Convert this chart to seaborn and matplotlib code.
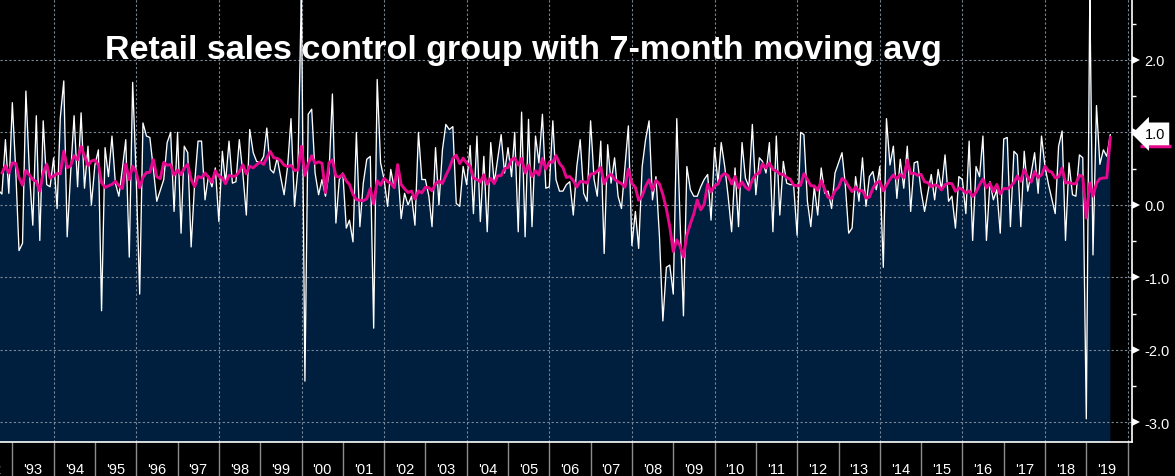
import numpy as np
import pandas as pd
import matplotlib
matplotlib.use("Agg")
import matplotlib.pyplot as plt
import matplotlib.dates as mdates
import matplotlib.transforms as mtransforms
import seaborn as sns

# ---------------- data (monthly % change, month-end dates from Mar 1992) ----------------
start_month = "1992-03-31"

mom_1992_1998 = [0.20, 0.86, 0.43, 0.50, 0.74, 0.20,
                 0.15, 0.90, 0.16, 1.41, 0.45, -0.63, -0.53, 1.57, 0.45, -0.28, 1.23, -0.49,
                 1.16, 0.28, 0.25, 0.65, -0.05, 1.20, 1.71, -0.44, 0.45, 1.23, 0.25, 1.27,
                 0.23, 0.81, 0.00, 0.55, 0.76, -1.46, 0.79, 0.39, 0.95, 0.30, 0.12, 0.50,
                 0.90, -0.72, 1.69, 0.40, -1.23, 1.13, 0.95, 0.93, 0.50, 0.05, 0.20, 0.35,
                 0.86, 1.00, -0.09, 1.00, -0.39, 0.81, 0.72, -0.58, 0.30, 0.88, 0.88, 0.07,
                 0.40, 0.25, 0.51, -0.23, 0.74]

mom_1998_2003 = [0.30, 0.88, 0.30, 0.32, 0.90, 0.44, -0.14, 1.04, 0.72, 0.60, 0.58, 0.67,
                 1.06, 0.49, 0.44, 0.65, 0.39, 0.14, 0.53, 1.19, -0.02, 0.49,
                 2.95, -2.43,
                 1.25, 1.32, 0.44, 0.14, 0.35, 0.12, 0.44, 1.53, -0.25, 0.35, 0.44, -0.32,
                 -0.21, -0.51, 1.00, -0.30, 0.30, 0.63, 0.67,
                 -1.70, 1.73,
                 0.58, 0.35, -0.02, 0.49, 0.23, 0.53, -0.19, 0.16, 0.00, 0.12, -0.28, 1.00,
                 0.35, 0.35, 0.12, -0.30, 0.79, 0.00, 0.76, 1.11]

mom_2003_2008 = [1.04, 1.08, 0.02, -0.02, 0.53, 0.28, 0.82, -0.12, 0.95, -0.23, 0.67, -0.37,
                 0.86, 0.30, 0.63, 0.97, 0.44, 0.79, 0.39, 1.00, -0.37, 1.28, -0.44, 1.18,
                 -0.30, 0.95, 0.58, 1.25, 0.23, 0.25, 1.16, 0.35, 0.19, 0.19, 0.28, 0.32,
                 -0.14, 0.53, 0.90, 0.16, 0.05, 1.16, 0.35, 0.12, 0.88, -0.67, 0.83, 0.30,
                 0.65, 0.12, -0.05, 0.53, 1.09, -0.56, -0.09, -0.60, 0.53, 0.90, 1.16, 0.07,
                 0.39, -0.44, -1.60, -0.86, -0.83]

mom_2008_2014 = [-1.23, 1.19, -0.17, -1.53, 0.53, 0.21, 0.12, 0.12, 0.25, 0.35, 0.42, -0.21,
                 0.79, 0.30, 0.86, 0.53, 0.12, -0.37, 0.51, -0.30, 0.86, 0.37, 0.25, 1.11,
                 0.14, 0.65, 0.60, 0.44, 0.86, -0.37, 0.95, -0.14, 0.60, 0.30, 0.28, 0.28,
                 -0.42, 1.00, 0.97, 0.05, -0.30, 0.25, -0.14, 0.51, 0.16, 0.19, -0.05, 0.44,
                 0.58, 0.72, 0.30, -0.39, -0.32, 0.39, 0.05, 0.65, -0.02, 0.39, 0.46, 0.21,
                 0.53, -0.86, 1.19, 0.55]

mom_2014_2019 = [0.81, 0.09, 0.63, 0.23, 0.81, -0.09, 0.58, 0.60, 0.19, -0.09, 0.16, 0.42,
                 0.07, 0.49, 0.21, 0.69, 0.05, 0.12, -0.32, 0.39, 0.35, -0.12, 0.88, -0.49,
                 0.53, 0.39, 0.95, -0.49, 0.32, 0.07, 0.21, -0.39, 0.91, 0.93, -0.30, 0.74,
                 0.69, -0.30, 0.74, 0.19, 0.44, 0.72, 0.16, 0.95, 0.53, 0.28, 0.09, -0.12,
                 0.81, 1.02, -0.49, 0.58, 0.14, 0.12, 0.69, 0.65, -2.95, 2.90, -0.69, 1.37,
                 0.56, 0.76, 0.67, 0.97]

year_labels = ["'%02d" % (y % 100) for y in range(1992, 2020)]
y_ticks = [-3.0, -2.0, -1.0, 0.0, 1.0, 2.0]
title = "Retail sales control group with 7-month moving avg"
ma_window = 7

values = mom_1992_1998 + mom_1998_2003 + mom_2003_2008 + mom_2008_2014 + mom_2014_2019
dates = pd.date_range(start_month, periods=len(values), freq="ME")
df = pd.DataFrame({"date": dates, "value": values})
df["ma"] = df["value"].rolling(ma_window).mean()

# ---------------- style ----------------
NAVY = "#001e3e"
MAGENTA = "#e8088e"
GRID = "#7d8896"
SEP = "#8c8c8c"

sns.set_theme(style="dark")
plt.rcParams["font.family"] = ["Liberation Sans", "DejaVu Sans"]
plt.rcParams["axes.unicode_minus"] = False

W, H = 1175, 477
fig = plt.figure(figsize=(W / 100, H / 100), dpi=100, facecolor="black")
ax = fig.add_axes([0, 34 / H, 1132 / W, 443 / H])
ax.set_facecolor("black")

ymin, ymax = -3.27, 2.84
ax.fill_between(df["date"], df["value"], ymin - 1, color=NAVY, lw=0, zorder=1)

sns.lineplot(data=df, x="date", y="value", color="white", lw=0.95, ax=ax, zorder=3)
sns.lineplot(data=df, x="date", y="ma", color=MAGENTA, lw=2.1, ax=ax, zorder=4)

ax.set_xlim(pd.Timestamp("1992-09-13"), pd.Timestamp("2020-02-08"))
ax.set_ylim(ymin, ymax)
ax.set_xlabel("")
ax.set_ylabel("")
ax.grid(False)

# gridlines
for yv in y_ticks:
    ax.axhline(yv, color=GRID, lw=0.8, ls=(0, (2, 2)), zorder=2)
for yr in range(1994, 2021, 2):
    ax.axvline(pd.Timestamp(f"{yr}-01-01"), color=GRID, lw=0.8, ls=(0, (2, 2)), zorder=2)

# spines
for s in ["top", "left"]:
    ax.spines[s].set_visible(False)
for s in ["bottom", "right"]:
    ax.spines[s].set_color("white")
    ax.spines[s].set_linewidth(1.2)
    ax.spines[s].set_zorder(6)

# x axis: yearly separators + centered year labels
ax.xaxis.set_major_locator(mdates.YearLocator(1, month=1, day=1))
ax.xaxis.set_major_formatter(mdates.DateFormatter(""))
ax.xaxis.set_minor_locator(mdates.MonthLocator(bymonth=7, bymonthday=1))
ax.xaxis.set_minor_formatter(mdates.DateFormatter("'%y"))
ax.tick_params(axis="x", which="major", bottom=True, length=25, width=1.0, color=SEP,
               direction="out", labelbottom=False)
ax.tick_params(axis="x", which="minor", bottom=True, length=0, pad=14.5, labelsize=10.5,
               labelcolor="white", labelbottom=True)
# first (cut-off) year label
bxt = mtransforms.blended_transform_factory(ax.transData, ax.transAxes)
ax.annotate(year_labels[0], xy=(mdates.date2num(pd.Timestamp("1992-07-01")), 0),
            xycoords=bxt, xytext=(0, -14.5), textcoords="offset points",
            ha="center", va="top", fontsize=10.5, color="white", annotation_clip=False)

# y axis on the right
ax.yaxis.tick_right()
ax.set_yticks(y_ticks)
ax.set_yticklabels([f"{v:.1f}" for v in y_ticks])
ax.set_yticks(np.arange(-2.5, 3.0, 1.0), minor=True)
ax.tick_params(axis="y", which="major", length=0, pad=9, labelsize=10.5,
               labelcolor="white", right=True, left=False)
ax.tick_params(axis="y", which="minor", length=3, width=1.0, color="white",
               direction="out", right=True, left=False)
btr = mtransforms.blended_transform_factory(ax.transAxes, ax.transData)
tri_tr = mtransforms.offset_copy(btr, fig=fig, x=4, y=0, units="dots")
ax.plot([1.0] * len(y_ticks), y_ticks, ls="none", marker=">", ms=6, color="white",
        mew=0, transform=tri_tr, clip_on=False, zorder=7)

# last-value label (white flag) with the moving-average colour strip beneath it
last_val = df["value"].iloc[-1]
last_ma = df["ma"].iloc[-1]
ax.annotate(f"{last_val:.1f}", xy=(1.0, last_val), xycoords=btr, xytext=(9, 0.5),
            textcoords="offset points", ha="left", va="center", fontsize=10.5,
            color="black", annotation_clip=False,
            bbox=dict(boxstyle="larrow,pad=0.3", fc="white", ec="none"),
            zorder=8)
x_anchor, y_anchor = btr.transform((1.0, last_ma))
ax.plot([x_anchor + 8, x_anchor + 39], [y_anchor - 9, y_anchor - 9], color=MAGENTA,
        lw=2.5, solid_capstyle="butt", transform=None, clip_on=False, zorder=7)

# title
fig.text(105 / W, 1 - 51 / H, title, ha="left", va="center", fontsize=24.5,
         fontweight="bold", color="white")

fig.savefig("out.png", dpi=100, facecolor="black")
